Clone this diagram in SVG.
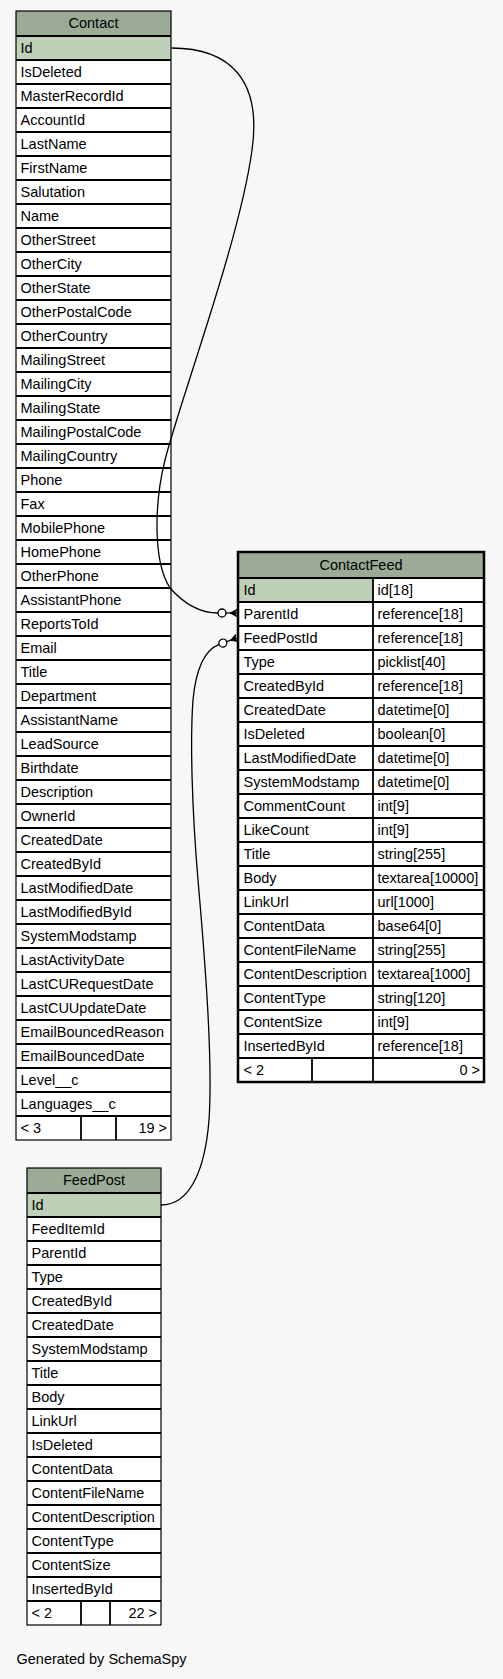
<svg xmlns="http://www.w3.org/2000/svg" width="503" height="1679" viewBox="0 0 503 1679">
<style>
text{font-family:"Liberation Sans",Arial,Helvetica,sans-serif;font-size:14.5px;fill:#000}
.c{text-anchor:middle}
.e{text-anchor:end}
.hd{fill:#9bab96}
.pk{fill:#bed1b8}
.bd{fill:#ffffff}
.ol{fill:none;stroke:#000;stroke-width:1.2}
.ol2{fill:none;stroke:#000;stroke-width:2.5}
.sep{fill:none;stroke:#000;stroke-width:1.8}
.edge{fill:none;stroke:#000;stroke-width:1.3}
.circ{fill:#fff;stroke:#000;stroke-width:1.3}
</style>
<rect x="0" y="0" width="503" height="1679" fill="#f7f7f7"/>

<g id="Contact">
<rect class="hd" x="16" y="11" width="155" height="25"/>
<rect class="pk" x="16" y="36" width="155" height="24"/>
<rect class="bd" x="16" y="60" width="155" height="1080"/>
<path class="sep" d="M16,36h155M16,60h155M16,84h155M16,108h155M16,132h155M16,156h155M16,180h155M16,204h155M16,228h155M16,252h155M16,276h155M16,300h155M16,324h155M16,348h155M16,372h155M16,396h155M16,420h155M16,444h155M16,468h155M16,492h155M16,516h155M16,540h155M16,564h155M16,588h155M16,612h155M16,636h155M16,660h155M16,684h155M16,708h155M16,732h155M16,756h155M16,780h155M16,804h155M16,828h155M16,852h155M16,876h155M16,900h155M16,924h155M16,948h155M16,972h155M16,996h155M16,1020h155M16,1044h155M16,1068h155M16,1092h155M16,1116h155M81,1116v24M116,1116v24"/>
<rect class="ol" x="16" y="11" width="155" height="1129"/>
<text class="c" x="93.5" y="27.5">Contact</text>
<text x="20.5" y="52.5">Id</text>
<text x="20.5" y="76.5">IsDeleted</text>
<text x="20.5" y="100.5">MasterRecordId</text>
<text x="20.5" y="124.5">AccountId</text>
<text x="20.5" y="148.5">LastName</text>
<text x="20.5" y="172.5">FirstName</text>
<text x="20.5" y="196.5">Salutation</text>
<text x="20.5" y="220.5">Name</text>
<text x="20.5" y="244.5">OtherStreet</text>
<text x="20.5" y="268.5">OtherCity</text>
<text x="20.5" y="292.5">OtherState</text>
<text x="20.5" y="316.5">OtherPostalCode</text>
<text x="20.5" y="340.5">OtherCountry</text>
<text x="20.5" y="364.5">MailingStreet</text>
<text x="20.5" y="388.5">MailingCity</text>
<text x="20.5" y="412.5">MailingState</text>
<text x="20.5" y="436.5">MailingPostalCode</text>
<text x="20.5" y="460.5">MailingCountry</text>
<text x="20.5" y="484.5">Phone</text>
<text x="20.5" y="508.5">Fax</text>
<text x="20.5" y="532.5">MobilePhone</text>
<text x="20.5" y="556.5">HomePhone</text>
<text x="20.5" y="580.5">OtherPhone</text>
<text x="20.5" y="604.5">AssistantPhone</text>
<text x="20.5" y="628.5">ReportsToId</text>
<text x="20.5" y="652.5">Email</text>
<text x="20.5" y="676.5">Title</text>
<text x="20.5" y="700.5">Department</text>
<text x="20.5" y="724.5">AssistantName</text>
<text x="20.5" y="748.5">LeadSource</text>
<text x="20.5" y="772.5">Birthdate</text>
<text x="20.5" y="796.5">Description</text>
<text x="20.5" y="820.5">OwnerId</text>
<text x="20.5" y="844.5">CreatedDate</text>
<text x="20.5" y="868.5">CreatedById</text>
<text x="20.5" y="892.5">LastModifiedDate</text>
<text x="20.5" y="916.5">LastModifiedById</text>
<text x="20.5" y="940.5">SystemModstamp</text>
<text x="20.5" y="964.5">LastActivityDate</text>
<text x="20.5" y="988.5">LastCURequestDate</text>
<text x="20.5" y="1012.5">LastCUUpdateDate</text>
<text x="20.5" y="1036.5">EmailBouncedReason</text>
<text x="20.5" y="1060.5">EmailBouncedDate</text>
<text x="20.5" y="1084.5">Level__c</text>
<text x="20.5" y="1108.5">Languages__c</text>
<text x="20.5" y="1132.5">&lt; 3</text>
<text class="e" x="167" y="1132.5">19 &gt;</text>
</g>

<g id="ContactFeed">
<rect class="hd" x="238" y="552" width="246" height="26"/>
<rect class="pk" x="238" y="578" width="135" height="24"/>
<rect class="bd" x="373" y="578" width="111" height="24"/>
<rect class="bd" x="238" y="602" width="246" height="480"/>
<path class="sep" d="M238,578h246M238,602h246M238,626h246M238,650h246M238,674h246M238,698h246M238,722h246M238,746h246M238,770h246M238,794h246M238,818h246M238,842h246M238,866h246M238,890h246M238,914h246M238,938h246M238,962h246M238,986h246M238,1010h246M238,1034h246M238,1058h246M373,578v504M312,1058v24"/>
<rect class="ol2" x="238" y="552" width="246" height="530"/>
<text class="c" x="361" y="570">ContactFeed</text>
<text x="243.5" y="594.5">Id</text><text x="377.5" y="594.5">id[18]</text>
<text x="243.5" y="618.5">ParentId</text><text x="377.5" y="618.5">reference[18]</text>
<text x="243.5" y="642.5">FeedPostId</text><text x="377.5" y="642.5">reference[18]</text>
<text x="243.5" y="666.5">Type</text><text x="377.5" y="666.5">picklist[40]</text>
<text x="243.5" y="690.5">CreatedById</text><text x="377.5" y="690.5">reference[18]</text>
<text x="243.5" y="714.5">CreatedDate</text><text x="377.5" y="714.5">datetime[0]</text>
<text x="243.5" y="738.5">IsDeleted</text><text x="377.5" y="738.5">boolean[0]</text>
<text x="243.5" y="762.5">LastModifiedDate</text><text x="377.5" y="762.5">datetime[0]</text>
<text x="243.5" y="786.5">SystemModstamp</text><text x="377.5" y="786.5">datetime[0]</text>
<text x="243.5" y="810.5">CommentCount</text><text x="377.5" y="810.5">int[9]</text>
<text x="243.5" y="834.5">LikeCount</text><text x="377.5" y="834.5">int[9]</text>
<text x="243.5" y="858.5">Title</text><text x="377.5" y="858.5">string[255]</text>
<text x="243.5" y="882.5">Body</text><text x="377.5" y="882.5">textarea[10000]</text>
<text x="243.5" y="906.5">LinkUrl</text><text x="377.5" y="906.5">url[1000]</text>
<text x="243.5" y="930.5">ContentData</text><text x="377.5" y="930.5">base64[0]</text>
<text x="243.5" y="954.5">ContentFileName</text><text x="377.5" y="954.5">string[255]</text>
<text x="243.5" y="978.5">ContentDescription</text><text x="377.5" y="978.5">textarea[1000]</text>
<text x="243.5" y="1002.5">ContentType</text><text x="377.5" y="1002.5">string[120]</text>
<text x="243.5" y="1026.5">ContentSize</text><text x="377.5" y="1026.5">int[9]</text>
<text x="243.5" y="1050.5">InsertedById</text><text x="377.5" y="1050.5">reference[18]</text>
<text x="243.5" y="1074.5">&lt; 2</text>
<text class="e" x="480" y="1074.5">0 &gt;</text>
</g>

<g id="FeedPost">
<rect class="hd" x="27" y="1168" width="134" height="25"/>
<rect class="pk" x="27" y="1193" width="134" height="24"/>
<rect class="bd" x="27" y="1217" width="134" height="408"/>
<path class="sep" d="M27,1193h134M27,1217h134M27,1241h134M27,1265h134M27,1289h134M27,1313h134M27,1337h134M27,1361h134M27,1385h134M27,1409h134M27,1433h134M27,1457h134M27,1481h134M27,1505h134M27,1529h134M27,1553h134M27,1577h134M27,1601h134M81,1601v24M110,1601v24"/>
<rect class="ol" x="27" y="1168" width="134" height="457"/>
<text class="c" x="94" y="1184.5">FeedPost</text>
<text x="31.5" y="1209.5">Id</text>
<text x="31.5" y="1233.5">FeedItemId</text>
<text x="31.5" y="1257.5">ParentId</text>
<text x="31.5" y="1281.5">Type</text>
<text x="31.5" y="1305.5">CreatedById</text>
<text x="31.5" y="1329.5">CreatedDate</text>
<text x="31.5" y="1353.5">SystemModstamp</text>
<text x="31.5" y="1377.5">Title</text>
<text x="31.5" y="1401.5">Body</text>
<text x="31.5" y="1425.5">LinkUrl</text>
<text x="31.5" y="1449.5">IsDeleted</text>
<text x="31.5" y="1473.5">ContentData</text>
<text x="31.5" y="1497.5">ContentFileName</text>
<text x="31.5" y="1521.5">ContentDescription</text>
<text x="31.5" y="1545.5">ContentType</text>
<text x="31.5" y="1569.5">ContentSize</text>
<text x="31.5" y="1593.5">InsertedById</text>
<text x="31.5" y="1617.5">&lt; 2</text>
<text class="e" x="157" y="1617.5">22 &gt;</text>
</g>

<g id="connectors">
<path class="edge" d="M171.5,48 C230,48 262,80 252,150 C240,240 180,400 165,460 C155,500 152,560 170,588 C185,605 200,613 218,613"/>
<g transform="translate(237,613)">
<circle class="circ" cx="-15" cy="0" r="4"/>
<line class="edge" x1="-11" y1="0" x2="0" y2="0"/>
<polygon points="-7,0 0,-3.8 -2,0 0,3.8" fill="#000" stroke="#000" stroke-width="0.8"/>
</g>
<path class="edge" d="M161,1205 C190,1205 205,1170 209,1120 C213,1060 205,960 198,880 C192,810 190,740 193,700 C196,668 205,650 219.1,644.4"/>
<g transform="translate(237,638) rotate(-19.65)">
<circle class="circ" cx="-15" cy="0" r="4"/>
<line class="edge" x1="-11" y1="0" x2="0" y2="0"/>
<polygon points="-7,0 0,-3.8 -2,0 0,3.8" fill="#000" stroke="#000" stroke-width="0.8"/>
</g>
</g>

<g id="footer">
<text x="16.5" y="1664">Generated by SchemaSpy</text>
</g>
</svg>
